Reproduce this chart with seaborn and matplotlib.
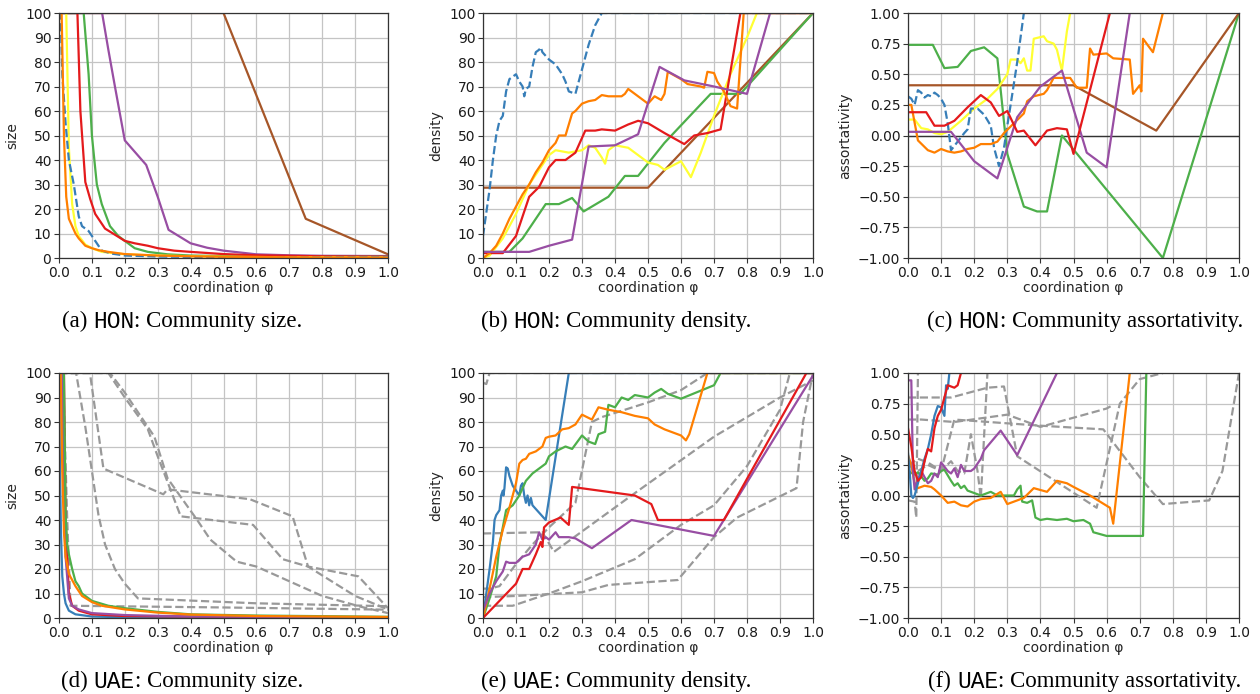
import numpy as np
import pandas as pd
import matplotlib
matplotlib.use("Agg")
import matplotlib.pyplot as plt
import seaborn as sns

# ---------------- colours (Set1-like) ----------------
RED = "#e41a1c"; BLUE = "#377eb8"; GREEN = "#4daf4a"; PURPLE = "#984ea3"
ORANGE = "#ff7f00"; YELLOW = "#ffff33"; BROWN = "#a65628"; GRAY = "#999999"

# ---------------- (a) HON size ----------------
a_brown_x = [0.0, 0.5, 0.75, 1.0]
a_brown_y = [100, 100, 16, 1.5]
a_purple_x = [0.0, 0.131, 0.15, 0.17, 0.2, 0.265, 0.3, 0.333, 0.4, 0.45, 0.5, 0.6, 0.7, 0.8, 1.0]
a_purple_y = [100, 100, 85, 70, 48, 38, 25, 11.5, 6, 4.2, 3, 1.5, 1.1, 0.9, 0.8]
a_green_x = [0.0, 0.075, 0.09, 0.1, 0.115, 0.13, 0.155, 0.18, 0.2, 0.23, 0.27, 0.33, 0.4, 0.5, 0.7, 1.0]
a_green_y = [100, 100, 75, 50, 30, 22, 13, 9, 7, 4, 2.5, 1.5, 1.0, 0.8, 0.6, 0.5]
a_red_x = [0.0, 0.056, 0.065, 0.08, 0.095, 0.11, 0.14, 0.17, 0.2, 0.23, 0.27, 0.3, 0.35, 0.4, 0.5, 0.6, 0.7, 0.8, 1.0]
a_red_y = [100, 100, 60, 31, 24, 18, 12, 9.5, 7, 6, 5, 4, 3, 2.5, 1.6, 1.1, 0.9, 0.7, 0.5]
a_yellow_x = [0.0, 0.022, 0.03, 0.04, 0.05, 0.06, 0.08, 0.1, 0.13, 0.2, 0.3, 0.5, 0.7, 1.0]
a_yellow_y = [100, 100, 45, 22, 13, 9, 5.5, 4, 2.5, 1.5, 1.0, 0.5, 0.3, 0.2]
a_blue_x = [0.0, 0.005, 0.01, 0.02, 0.03, 0.045, 0.06, 0.07, 0.09, 0.1, 0.11, 0.12, 0.13, 0.16, 0.2, 0.3, 0.5, 1.0]
a_blue_y = [100, 100, 75, 55, 40, 30, 17, 13, 11, 9, 7, 5, 3, 1.8, 1.0, 0.6, 0.3, 0.2]
a_orange_x = [0.0, 0.008, 0.015, 0.022, 0.03, 0.04, 0.05, 0.06, 0.08, 0.1, 0.12, 0.15, 0.2, 0.3, 0.4, 0.5, 0.6, 0.7, 0.8, 0.9, 1.0]
a_orange_y = [100, 100, 50, 25, 16, 13, 10, 8, 5, 4, 3.2, 2.5, 1.6, 1.0, 0.7, 0.5, 0.4, 0.3, 0.2, 0.15, 0.1]

# ---------------- (b) HON density ----------------
b_brown_x = [0.0, 0.5, 1.0]
b_brown_y = [28.7, 28.7, 100]
b_green_x = [0.0, 0.08, 0.12, 0.19, 0.23, 0.27, 0.305, 0.38, 0.43, 0.47, 0.55, 0.69, 0.78, 1.0]
b_green_y = [2.5, 2.5, 8, 22, 22, 24.5, 19, 25, 33.5, 33.5, 47, 67, 67, 100]
b_purple_x = [0.0, 0.14, 0.2, 0.27, 0.32, 0.4, 0.47, 0.535, 0.61, 0.7, 0.8, 0.87, 1.0]
b_purple_y = [2.5, 2.5, 5, 7.5, 45.5, 46, 50.5, 78, 72.5, 70, 67, 100, 100]
b_red_x = [0.0, 0.06, 0.1, 0.14, 0.17, 0.2, 0.22, 0.25, 0.28, 0.31, 0.34, 0.36, 0.4, 0.44, 0.47, 0.5, 0.55, 0.61, 0.64, 0.68, 0.72, 0.78, 1.0]
b_red_y = [2, 2, 9, 25, 29, 37, 40, 40, 43, 52, 52, 52.5, 52, 54.5, 56, 55, 51, 46.5, 50, 51, 52.5, 100, 100]
b_yellow_x = [0.0, 0.02, 0.06, 0.1, 0.14, 0.18, 0.2, 0.22, 0.26, 0.3, 0.32, 0.34, 0.36, 0.37, 0.38, 0.4, 0.44, 0.46, 0.5, 0.53, 0.55, 0.6, 0.63, 0.66, 0.7, 0.75, 0.8, 0.83, 1.0]
b_yellow_y = [0, 1, 8, 18, 30, 38, 42, 44, 43, 44, 46, 45, 41, 38.5, 44, 46, 45, 43, 39, 38, 36, 39.5, 33, 43, 58, 75, 90, 100, 100]
b_orange_x = [0.0, 0.02, 0.04, 0.06, 0.08, 0.1, 0.12, 0.14, 0.16, 0.18, 0.2, 0.22, 0.23, 0.25, 0.27, 0.28, 0.3, 0.32, 0.34, 0.36, 0.38, 0.42, 0.43, 0.44, 0.46, 0.48, 0.5, 0.52, 0.54, 0.55, 0.56, 0.6, 0.62, 0.66, 0.67, 0.68, 0.7, 0.71, 0.73, 0.75, 0.77, 0.79, 1.0]
b_orange_y = [0, 2, 5, 10, 16, 21, 26, 30, 35, 39, 44, 47, 50, 50, 59, 60, 63, 64, 64.5, 66.5, 66, 66, 67, 69, 67, 65, 63, 66, 64.5, 67, 76, 73, 71, 70, 69.5, 76, 75.5, 72, 68, 62, 61, 100, 100]
b_blue_x = [0.0, 0.02, 0.03, 0.04, 0.05, 0.06, 0.07, 0.08, 0.09, 0.1, 0.11, 0.12, 0.125, 0.13, 0.14, 0.15, 0.16, 0.17, 0.175, 0.18, 0.2, 0.22, 0.24, 0.25, 0.26, 0.28, 0.3, 0.32, 0.34, 0.36, 1.0]
b_blue_y = [9, 28, 40, 50, 56, 58, 68, 73, 74, 75, 72, 70, 66, 69, 70, 78, 84, 85, 86, 84, 81, 79, 75, 72, 68, 67, 77, 87, 95, 100, 100]

# ---------------- (c) HON assortativity ----------------
c_green_x = [0.0, 0.075, 0.11, 0.15, 0.19, 0.23, 0.27, 0.3, 0.35, 0.39, 0.42, 0.465, 0.77, 1.0]
c_green_y = [0.74, 0.74, 0.55, 0.56, 0.69, 0.72, 0.63, -0.15, -0.58, -0.62, -0.62, 0.0, -1.0, 1.0]
c_brown_x = [0.0, 0.5, 0.75, 1.0]
c_brown_y = [0.41, 0.41, 0.04, 1.0]
c_blue_x = [0.0, 0.01, 0.02, 0.03, 0.04, 0.05, 0.06, 0.07, 0.08, 0.09, 0.1, 0.11, 0.12, 0.13, 0.15, 0.17, 0.18, 0.19, 0.21, 0.23, 0.25, 0.26, 0.275, 0.29, 0.3, 0.31, 0.33, 0.35]
c_blue_y = [0.32, 0.3, 0.25, 0.37, 0.35, 0.31, 0.33, 0.32, 0.35, 0.33, 0.3, 0.25, 0.1, -0.12, -0.05, 0.02, 0.05, 0.22, 0.22, 0.17, 0.08, -0.1, -0.25, -0.1, 0.08, 0.25, 0.6, 1.0]
c_yellow_x = [0.0, 0.02, 0.04, 0.06, 0.08, 0.1, 0.12, 0.16, 0.2, 0.24, 0.27, 0.3, 0.31, 0.33, 0.34, 0.35, 0.36, 0.37, 0.38, 0.41, 0.42, 0.44, 0.45, 0.465, 0.48, 0.49]
c_yellow_y = [0.13, 0.13, 0.06, 0.05, 0.02, 0.01, 0.03, 0.12, 0.22, 0.3, 0.38, 0.5, 0.62, 0.62, 0.59, 0.63, 0.53, 0.53, 0.79, 0.81, 0.77, 0.75, 0.7, 0.53, 0.85, 1.0]
c_red_x = [0.0, 0.055, 0.08, 0.11, 0.14, 0.18, 0.22, 0.25, 0.275, 0.3, 0.33, 0.35, 0.385, 0.42, 0.45, 0.48, 0.5, 0.61]
c_red_y = [0.19, 0.19, 0.08, 0.08, 0.12, 0.23, 0.33, 0.27, 0.16, 0.2, 0.03, 0.04, -0.08, 0.04, 0.06, 0.05, -0.15, 1.0]
c_orange_x = [0.0, 0.01, 0.03, 0.06, 0.08, 0.1, 0.12, 0.14, 0.16, 0.18, 0.2, 0.22, 0.25, 0.27, 0.29, 0.32, 0.35, 0.36, 0.38, 0.41, 0.42, 0.44, 0.49, 0.51, 0.54, 0.55, 0.56, 0.6, 0.62, 0.67, 0.68, 0.7, 0.705, 0.71, 0.74, 0.77]
c_orange_y = [0.25, 0.25, -0.04, -0.12, -0.14, -0.11, -0.13, -0.14, -0.13, -0.11, -0.1, -0.07, -0.07, -0.05, 0.02, 0.1, 0.18, 0.28, 0.32, 0.34, 0.37, 0.47, 0.47, 0.39, 0.39, 0.71, 0.66, 0.67, 0.63, 0.62, 0.34, 0.41, 0.36, 0.79, 0.68, 1.0]
c_purple_x = [0.0, 0.13, 0.2, 0.27, 0.33, 0.4, 0.465, 0.54, 0.6, 0.67]
c_purple_y = [0.03, 0.03, -0.21, -0.35, 0.15, 0.4, 0.53, -0.14, -0.26, 1.0]

# ---------------- (d) UAE size ----------------
d_gray1_x = [0.0, 0.012, 0.025, 0.035, 0.5, 1.0]
d_gray1_y = [100, 100, 40, 5, 4.3, 3.4]
d_gray2_x = [0.0, 0.052, 0.08, 0.1, 0.12, 0.14, 0.17, 0.2, 0.24, 0.6, 1.0]
d_gray2_y = [100, 100, 78, 60, 42, 30, 20, 14, 8, 6, 4.8]
d_gray3_x = [0.0, 0.094, 0.135, 0.317, 0.33, 0.58, 0.71, 0.757, 0.91, 1.0]
d_gray3_y = [100, 100, 61, 50.5, 52.5, 48.5, 41.5, 21, 17, 4]
d_gray4_x = [0.0, 0.15, 0.2, 0.27, 0.3, 0.37, 0.59, 0.68, 0.757, 0.9, 1.0]
d_gray4_y = [100, 100, 90, 77, 66, 41.5, 38, 24, 21, 9, 3.5]
d_gray5_x = [0.0, 0.155, 0.2, 0.26, 0.29, 0.33, 0.42, 0.46, 0.54, 0.6, 0.8, 0.92, 1.0]
d_gray5_y = [100, 100, 92, 80, 74, 57, 40, 32, 23, 21, 9, 4.5, 2]
d_blue_x = [0.0, 0.003, 0.006, 0.01, 0.015, 0.02, 0.03, 0.05, 0.1, 0.2, 1.0]
d_blue_y = [100, 60, 35, 17, 10, 6, 3, 1.5, 0.6, 0.3, 0.1]
d_purple_x = [0.0, 0.01, 0.015, 0.02, 0.03, 0.04, 0.06, 0.1, 0.2, 0.4, 1.0]
d_purple_y = [100, 100, 50, 25, 8, 5, 3.5, 2, 1.2, 0.6, 0.3]
d_red_x = [0.0, 0.015, 0.02, 0.03, 0.04, 0.06, 0.1, 0.2, 0.5, 1.0]
d_red_y = [100, 100, 40, 10, 5, 3, 1.5, 0.8, 0.5, 0.3]
d_green_x = [0.0, 0.015, 0.02, 0.025, 0.03, 0.04, 0.05, 0.06, 0.07, 0.08, 0.1, 0.15, 0.2, 0.3, 0.4, 0.6, 1.0]
d_green_y = [100, 100, 42, 30, 26, 20, 15, 13, 10, 9, 7, 5, 4, 2.5, 1.5, 1, 0.5]
d_orange_x = [0.0, 0.005, 0.01, 0.015, 0.02, 0.03, 0.05, 0.07, 0.1, 0.13, 0.2, 0.3, 0.4, 0.6, 1.0]
d_orange_y = [100, 100, 60, 35, 25, 18, 13, 9, 6.5, 5, 3.5, 2.2, 1.4, 0.8, 0.4]

# ---------------- (e) UAE density ----------------
e_gray1_x = [0.0, 0.01, 0.02, 1.0]
e_gray1_y = [96, 95.5, 100, 100]
e_gray2_x = [0.0, 0.18, 0.215, 0.45, 0.7, 0.9, 1.0]
e_gray2_y = [34.5, 35, 27, 50, 74, 90, 97]
e_gray3_x = [0.0, 0.02, 0.05, 0.1, 0.15, 0.2, 0.28, 0.33, 0.36, 0.5, 0.6, 0.68, 1.0]
e_gray3_y = [12, 12, 13, 22, 30, 37, 47, 80, 82, 88, 93, 100, 100]
e_gray4_x = [0.0, 0.1, 0.3, 0.38, 0.59, 0.7, 0.77, 0.95, 0.97, 1.0]
e_gray4_y = [8.5, 9, 10.5, 13.5, 15.5, 33, 41, 53, 80, 100]
e_gray5_x = [0.0, 0.02, 0.09, 0.2, 0.3, 0.46, 0.6, 0.7, 0.8, 0.9, 0.93]
e_gray5_y = [5, 5, 5, 10, 15, 24, 38, 46, 62, 85, 100]
e_blue_x = [0.0, 0.01, 0.02, 0.03, 0.035, 0.04, 0.045, 0.05, 0.055, 0.06, 0.062, 0.065, 0.07, 0.075, 0.08, 0.09, 0.1, 0.11, 0.115, 0.12, 0.125, 0.13, 0.135, 0.14, 0.145, 0.15, 0.19, 0.26, 1.0]
e_blue_y = [0, 10, 20, 31, 40, 42, 43, 44, 50, 52, 50, 53, 61.5, 61, 58, 54, 52, 50, 54, 55, 50, 47, 50, 46, 49, 46, 40, 100, 100]
e_orange_x = [0.0, 0.02, 0.04, 0.06, 0.08, 0.1, 0.11, 0.12, 0.13, 0.14, 0.16, 0.18, 0.19, 0.2, 0.22, 0.24, 0.26, 0.28, 0.3, 0.33, 0.35, 0.38, 0.42, 0.46, 0.5, 0.52, 0.55, 0.6, 0.615, 0.625, 0.68, 1.0]
e_orange_y = [0, 12, 25, 36, 45, 55, 63, 64.5, 65, 67, 68, 70, 73.5, 74, 74.5, 77, 77.5, 79, 83, 81, 86, 85, 84, 82.5, 81.5, 79, 77, 74.5, 72.5, 75, 100, 100]
e_green_x = [0.0, 0.02, 0.04, 0.05, 0.07, 0.09, 0.11, 0.12, 0.13, 0.15, 0.17, 0.19, 0.2, 0.22, 0.25, 0.27, 0.3, 0.32, 0.34, 0.35, 0.37, 0.38, 0.4, 0.42, 0.44, 0.46, 0.5, 0.52, 0.54, 0.56, 0.6, 0.7, 0.72, 1.0]
e_green_y = [0, 8, 17, 30, 44, 46, 50, 53, 56, 59, 61, 63, 66, 68, 70, 69, 74.5, 72, 71, 75, 76, 87, 86, 90, 89, 91, 90, 92, 93.5, 91.5, 89.5, 95, 100, 100]
e_red_x = [0.0, 0.05, 0.1, 0.12, 0.14, 0.16, 0.175, 0.18, 0.185, 0.2, 0.235, 0.26, 0.27, 0.46, 0.51, 0.53, 0.73, 0.98, 1.0]
e_red_y = [0, 7, 14, 20, 20, 26, 31, 29, 37, 39, 41, 38, 53.5, 50, 46.5, 40, 40, 100, 100]
e_purple_x = [0.0, 0.02, 0.04, 0.06, 0.07, 0.08, 0.1, 0.12, 0.14, 0.16, 0.17, 0.18, 0.19, 0.2, 0.22, 0.23, 0.26, 0.28, 0.33, 0.45, 0.7, 1.0]
e_purple_y = [3, 10, 15, 19, 23, 22.5, 22.5, 25, 26, 30, 35, 32, 33, 32, 35, 33, 33, 32.5, 28.5, 40, 33.5, 99]

# ---------------- (f) UAE assortativity ----------------
f_gray1_x = [0.0, 0.13, 0.24, 0.29, 0.33, 0.57, 0.64, 0.7, 0.77]
f_gray1_y = [0.8, 0.8, 0.88, 0.89, 0.32, -0.1, 0.75, 0.95, 1.0]
f_gray2_x = [0.0, 0.04, 0.14, 0.3, 0.4, 0.6, 0.62]
f_gray2_y = [0.62, 0.62, 0.6, 0.66, 0.56, 0.71, 0.74]
f_gray3_x = [0.0, 0.02, 0.03, 0.06, 0.1, 0.14, 0.4, 0.59, 0.7, 0.77, 0.91, 0.95, 1.0]
f_gray3_y = [0.25, 0.28, 0.3, 0.27, 0.2, 0.62, 0.57, 0.54, 0.15, -0.07, -0.04, 0.2, 1.0]
f_gray4_x = [0.0, 0.02, 0.025, 0.03]
f_gray4_y = [-0.04, -0.05, -0.18, 1.0]
f_gray5_x = [0.0, 0.03, 0.06, 0.1, 0.13, 0.15, 0.17, 0.19, 0.21, 0.22, 0.24]
f_gray5_y = [0.25, 0.2, 0.25, 0.2, 0.28, 0.2, 0.18, 0.5, 0.2, -0.02, 1.0]
f_green_x = [0.0, 0.02, 0.03, 0.05, 0.06, 0.07, 0.09, 0.1, 0.11, 0.13, 0.14, 0.15, 0.16, 0.17, 0.18, 0.2, 0.22, 0.25, 0.27, 0.32, 0.33, 0.34, 0.345, 0.36, 0.375, 0.385, 0.4, 0.42, 0.45, 0.48, 0.5, 0.53, 0.55, 0.56, 0.6, 0.71, 0.72]
f_green_y = [0.2, 0.17, 0.19, 0.12, 0.14, 0.18, 0.17, 0.2, 0.21, 0.12, 0.08, 0.1, 0.06, 0.08, 0.04, 0.02, 0.0, 0.03, 0.0, 0.0, 0.05, 0.08, -0.05, -0.06, -0.04, -0.18, -0.2, -0.19, -0.2, -0.19, -0.21, -0.2, -0.23, -0.3, -0.33, -0.33, 1.0]
f_orange_x = [0.0, 0.01, 0.02, 0.03, 0.05, 0.07, 0.08, 0.1, 0.12, 0.14, 0.16, 0.18, 0.2, 0.22, 0.25, 0.28, 0.3, 0.33, 0.35, 0.38, 0.42, 0.45, 0.48, 0.5, 0.55, 0.61, 0.62, 0.67]
f_orange_y = [0.33, 0.25, 0.1, 0.06, 0.08, 0.07, 0.05, 0.0, -0.06, -0.05, -0.08, -0.09, -0.05, -0.03, -0.02, 0.03, -0.07, -0.04, -0.02, 0.06, 0.03, 0.12, 0.1, 0.07, 0.0, -0.1, -0.23, 1.0]
f_purple_x = [0.0, 0.01, 0.015, 0.02, 0.025, 0.03, 0.04, 0.05, 0.06, 0.07, 0.08, 0.09, 0.1, 0.12, 0.13, 0.14, 0.15, 0.16, 0.17, 0.19, 0.2, 0.22, 0.23, 0.28, 0.33, 0.45]
f_purple_y = [0.94, 0.94, 0.2, 0.05, 0.1, 0.13, 0.2, 0.15, 0.1, 0.12, 0.18, 0.15, 0.27, 0.2, 0.18, 0.22, 0.15, 0.25, 0.2, 0.2, 0.22, 0.3, 0.37, 0.53, 0.33, 1.0]
f_red_x = [0.0, 0.01, 0.02, 0.03, 0.04, 0.05, 0.06, 0.07, 0.08, 0.09, 0.1, 0.11, 0.12, 0.14, 0.15, 0.16]
f_red_y = [0.55, 0.4, 0.2, 0.12, 0.15, 0.28, 0.38, 0.36, 0.55, 0.65, 0.7, 0.8, 0.9, 0.88, 0.9, 1.0]
f_blue_x = [0.0, 0.005, 0.01, 0.015, 0.02, 0.03, 0.04, 0.05, 0.06, 0.07, 0.08, 0.09, 0.1, 0.11, 0.115, 0.12, 0.125]
f_blue_y = [0.35, 0.2, 0.0, -0.02, 0.0, 0.1, 0.2, 0.3, 0.38, 0.5, 0.65, 0.73, 0.72, 0.65, 0.9, 0.87, 1.0]

# ---------------- captions ----------------
letters = ["a", "b", "c", "d", "e", "f"]
datasets = ["HON", "HON", "HON", "UAE", "UAE", "UAE"]
titles = ["Community size.", "Community density.", "Community assortativity.",
          "Community size.", "Community density.", "Community assortativity."]
ylabels = ["size", "density", "assortativity", "size", "density", "assortativity"]
xlabel = "coordination \u03c6"

# ---------------- style ----------------
sns.set_style("ticks")
plt.rcParams["font.family"] = ["DejaVu Sans"]
plt.rcParams["axes.edgecolor"] = "#333333"
plt.rcParams["axes.linewidth"] = 0.9
plt.rcParams["xtick.color"] = "#333333"
plt.rcParams["ytick.color"] = "#333333"
plt.rcParams["xtick.labelcolor"] = "#1a1a1a"
plt.rcParams["ytick.labelcolor"] = "#1a1a1a"

W, H = 1260, 694
fig = plt.figure(figsize=(W / 100, H / 100), dpi=100)

def S(name, xs, ys, color, dashed=False):
    return (name, xs, ys, color, dashed)

panels = [
    [S("brown", a_brown_x, a_brown_y, BROWN), S("purple", a_purple_x, a_purple_y, PURPLE),
     S("green", a_green_x, a_green_y, GREEN), S("red", a_red_x, a_red_y, RED),
     S("yellow", a_yellow_x, a_yellow_y, YELLOW), S("blue", a_blue_x, a_blue_y, BLUE, True),
     S("orange", a_orange_x, a_orange_y, ORANGE)],
    [S("brown", b_brown_x, b_brown_y, BROWN), S("green", b_green_x, b_green_y, GREEN),
     S("yellow", b_yellow_x, b_yellow_y, YELLOW), S("red", b_red_x, b_red_y, RED),
     S("orange", b_orange_x, b_orange_y, ORANGE), S("purple", b_purple_x, b_purple_y, PURPLE),
     S("blue", b_blue_x, b_blue_y, BLUE, True)],
    [S("green", c_green_x, c_green_y, GREEN), S("brown", c_brown_x, c_brown_y, BROWN),
     S("yellow", c_yellow_x, c_yellow_y, YELLOW), S("blue", c_blue_x, c_blue_y, BLUE, True),
     S("orange", c_orange_x, c_orange_y, ORANGE), S("purple", c_purple_x, c_purple_y, PURPLE),
     S("red", c_red_x, c_red_y, RED)],
    [S("g1", d_gray1_x, d_gray1_y, GRAY, True), S("g2", d_gray2_x, d_gray2_y, GRAY, True),
     S("g3", d_gray3_x, d_gray3_y, GRAY, True), S("g4", d_gray4_x, d_gray4_y, GRAY, True),
     S("g5", d_gray5_x, d_gray5_y, GRAY, True),
     S("blue", d_blue_x, d_blue_y, BLUE), S("red", d_red_x, d_red_y, RED),
     S("purple", d_purple_x, d_purple_y, PURPLE), S("green", d_green_x, d_green_y, GREEN),
     S("orange", d_orange_x, d_orange_y, ORANGE)],
    [S("g1", e_gray1_x, e_gray1_y, GRAY, True), S("g2", e_gray2_x, e_gray2_y, GRAY, True),
     S("g3", e_gray3_x, e_gray3_y, GRAY, True), S("g4", e_gray4_x, e_gray4_y, GRAY, True),
     S("g5", e_gray5_x, e_gray5_y, GRAY, True),
     S("blue", e_blue_x, e_blue_y, BLUE), S("green", e_green_x, e_green_y, GREEN),
     S("orange", e_orange_x, e_orange_y, ORANGE), S("purple", e_purple_x, e_purple_y, PURPLE),
     S("red", e_red_x, e_red_y, RED)],
    [S("g1", f_gray1_x, f_gray1_y, GRAY, True), S("g2", f_gray2_x, f_gray2_y, GRAY, True),
     S("g3", f_gray3_x, f_gray3_y, GRAY, True), S("g4", f_gray4_x, f_gray4_y, GRAY, True),
     S("g5", f_gray5_x, f_gray5_y, GRAY, True),
     S("green", f_green_x, f_green_y, GREEN), S("orange", f_orange_x, f_orange_y, ORANGE),
     S("purple", f_purple_x, f_purple_y, PURPLE), S("blue", f_blue_x, f_blue_y, BLUE),
     S("red", f_red_x, f_red_y, RED)],
]

# axes placement (pixels)
lefts = [59, 483, 908]
widths = [329, 330, 331]
tops = [13, 373]
ax_h = 245

def draw(ax, series):
    frames, keys, pal, dashes = [], [], {}, {}
    for i, (name, xs, ys, color, dashed) in enumerate(series):
        k = f"{i}_{name}"
        keys.append(k)
        frames.append(pd.DataFrame({"x": xs, "y": ys, "s": k}))
        pal[k] = color
        dashes[k] = (3.7, 1.6) if dashed else ""
    df = pd.concat(frames, ignore_index=True)
    sns.lineplot(data=df, x="x", y="y", hue="s", style="s", hue_order=keys,
                 style_order=keys, palette=pal, dashes=dashes, estimator=None,
                 sort=False, legend=False, linewidth=1.6, ax=ax)

for idx in range(6):
    r, c = divmod(idx, 3)
    left = lefts[c] / W
    bottom = 1 - (tops[r] + ax_h) / H
    ax = fig.add_axes([left, bottom, widths[c] / W, ax_h / H])
    ax.set_axisbelow(True)
    ax.grid(True, color="#c4c4c4", linewidth=0.9)
    assort = ylabels[idx] == "assortativity"
    if assort:
        ax.axhline(0, color="#333333", linewidth=1.0, zorder=1.5)
    draw(ax, panels[idx])
    ax.set_xlim(0, 1)
    ax.set_xticks(np.round(np.arange(0, 1.01, 0.1), 1))
    if assort:
        ax.set_ylim(-1, 1)
        ax.set_yticks(np.arange(-1, 1.01, 0.25))
    else:
        ax.set_ylim(0, 100)
        ax.set_yticks(np.arange(0, 101, 10))
    ax.tick_params(labelsize=10, length=3.5, width=0.8, pad=2)
    ax.set_xlabel(xlabel, fontsize=10, labelpad=1)
    ax.set_ylabel(ylabels[idx], fontsize=10, labelpad=4)
    for sp in ax.spines.values():
        sp.set_visible(True)

# captions with mixed fonts
SERIF = ["Liberation Serif", "DejaVu Serif"]
MONO = ["Liberation Mono", "DejaVu Sans Mono"]
CAP_FS = 16.5
cap_x = [182, 616, 1085]
cap_y = [321, 681]

fig.canvas.draw()
renderer = fig.canvas.get_renderer()

def text_w(s, fam):
    t = fig.text(0, 0, s, family=fam, fontsize=CAP_FS)
    w = t.get_window_extent(renderer).width
    t.remove()
    return w

space_w = text_w("a a", SERIF) - text_w("aa", SERIF)
for idx in range(6):
    r, c = divmod(idx, 3)
    pieces = [(f"({letters[idx]})", SERIF), (datasets[idx], MONO), (f": {titles[idx]}", SERIF)]
    ws = [text_w(s, f) for s, f in pieces]
    gaps = [space_w, 0, 0]
    total = sum(ws) + space_w
    x = cap_x[c] - total / 2
    yf = 1 - cap_y[r] / H
    for (s, f), w, g in zip(pieces, ws, gaps):
        fig.text(x / W, yf, s, family=f, fontsize=CAP_FS, va="center", ha="left", color="black")
        x += w + g

fig.savefig("out.png", dpi=100)
